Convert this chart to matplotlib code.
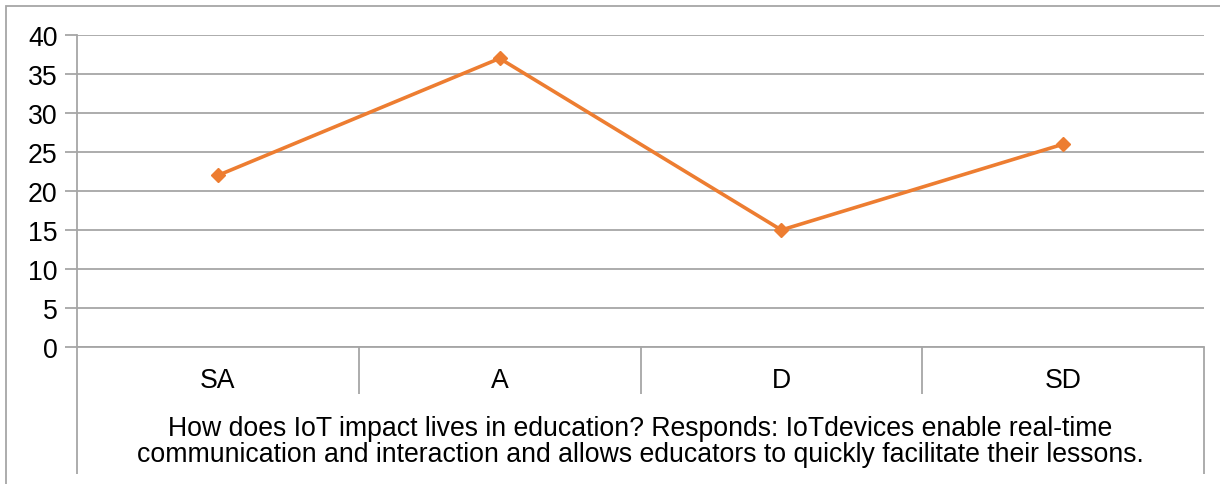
import matplotlib.pyplot as plt
import matplotlib.patches as mpatches
import numpy as np

# data
categories = ["SA", "A", "D", "SD"]
values = [22, 37, 15, 26]
group_label = ("How does IoT impact lives in education? Responds: IoTdevices enable real-time\n"
               "communication and interaction and allows educators to quickly facilitate their lessons.")
yticks = [0, 5, 10, 15, 20, 25, 30, 35, 40]

plt.rcParams['font.family'] = ['Liberation Sans', 'DejaVu Sans']
GRID = "#a6a6a6"
ORANGE = "#ED7D31"
FS = 19.2

W, H = 1220, 485
fig = plt.figure(figsize=(W / 100, H / 100), dpi=100)

# outer chart border (runs off the right and bottom edges)
fig.patches.append(mpatches.Rectangle((6 / W, -0.1), 1.2, 1 - 7 / H + 0.1,
                                      transform=fig.transFigure, fill=False,
                                      edgecolor=GRID, linewidth=1.3))

left, right, top, bottom = 77, 1204, 36, 348
ax = fig.add_axes([left / W, (H - bottom) / H, (right - left) / W, (bottom - top) / H])

x = np.arange(len(categories)) + 0.5
ax.plot(x, values, color=ORANGE, linewidth=2.6, marker="D", markersize=7.5,
        markerfacecolor=ORANGE, markeredgecolor=ORANGE, zorder=3)

ax.set_xlim(0, len(categories))
ax.set_ylim(0, 40)
ax.set_yticks(yticks)
ax.yaxis.grid(True, color=GRID, linewidth=1.3)
ax.set_axisbelow(True)
ax.tick_params(axis="y", length=9, width=1.3, color=GRID, labelsize=FS, pad=5)
ax.tick_params(axis="x", length=0)
ax.set_xticks([])

for s in ["top", "right"]:
    ax.spines[s].set_visible(False)
ax.spines["left"].set_color(GRID)
ax.spines["left"].set_linewidth(1.3)
ax.spines["bottom"].set_color(GRID)
ax.spines["bottom"].set_linewidth(1.3)

ph = bottom - top
xt = ax.get_xaxis_transform()
# category separators
ax.vlines(np.arange(1, len(categories)), 0, -47 / ph, transform=xt, clip_on=False,
          color=GRID, linewidth=1.3)
# outer edges of the multi-level category axis
ax.vlines([0, len(categories)], 0, -127 / ph, transform=xt, clip_on=False,
          color=GRID, linewidth=1.3)

for xi, c in zip(x, categories):
    ax.text(xi, -33 / ph, c, transform=xt, ha="center", va="center", fontsize=FS)

ax.text(len(categories) / 2, -94 / ph, group_label, transform=xt, ha="center",
        va="center", fontsize=FS, linespacing=1.02)

fig.savefig("out.png", dpi=100)
